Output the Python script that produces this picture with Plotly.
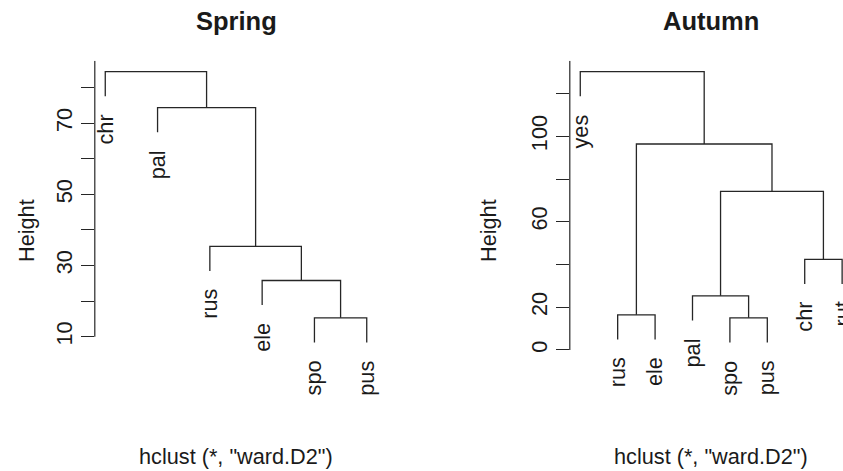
import plotly.graph_objects as go

# dendrogram data (R hclust merge order, heights)
spring_labels = ["chr", "pal", "rus", "ele", "spo", "pus"]
spring_merge = [(-5, -6), (-4, 1), (-3, 2), (-2, 3), (-1, 4)]
spring_height = [15.3, 25.8, 35.4, 74.4, 84.5]
spring_ticks = [10, 20, 30, 40, 50, 60, 70, 80]
spring_ticktext = ["10", "", "30", "", "50", "", "70", ""]

autumn_labels = ["yes", "rus", "ele", "pal", "spo", "pus", "chr", "rut"]
autumn_merge = [(-5, -6), (-2, -3), (-4, 1), (-7, -8), (3, 4), (2, 5), (-1, 6)]
autumn_height = [15.0, 16.4, 25.3, 42.4, 74.2, 96.4, 130.3]
autumn_ticks = [0, 20, 40, 60, 80, 100, 120]
autumn_ticktext = ["0", "20", "", "60", "", "100", ""]

titles = ["Spring", "Autumn"]
subtitle = 'hclust (*, "ward.D2")'

W, H = 843, 471
FONT = "Liberation Sans, Arial, sans-serif"
INK = "#1a1a1a"
LINE = "#262626"
FS = 21.7

# plot regions in pixels (R style), right panel runs past the page edge
panel_x = [(94.8, 377.2), (569.8, 852.6)]
reg_top, reg_bot, dom_bot = 60.8, 353.3, 399.0


def dendro(labels, merge, height):
    n = len(labels)
    span = max(height) - min(height)
    hang = 0.1 * span
    xs, ys = [], []
    node_x, node_y = {}, {}
    leaf_y = {}
    for k, (a, b) in enumerate(merge):
        h = height[k]
        pts = []
        for c in (a, b):
            if c < 0:
                i = -c
                cx, cy = i, h - hang
                leaf_y[i] = cy
            else:
                cx, cy = node_x[c], node_y[c]
            pts.append((cx, cy))
        (x1, y1), (x2, y2) = pts
        xs += [x1, x1, x2, x2, None]
        ys += [y1, h, h, y2, None]
        node_x[k + 1] = (x1 + x2) / 2
        node_y[k + 1] = h
    lo = min(leaf_y.values())
    hi = max(height)
    r = hi - lo
    return xs, ys, leaf_y, (lo - 0.04 * r, hi + 0.04 * r), (1 - 0.04 * (n - 1), n + 0.04 * (n - 1))


fig = go.Figure()
annotations = []
shapes = []
panels = [
    (spring_labels, spring_merge, spring_height, spring_ticks, spring_ticktext),
    (autumn_labels, autumn_merge, autumn_height, autumn_ticks, autumn_ticktext),
]

for p, (labels, merge, height, ticks, ticktext) in enumerate(panels):
    xs, ys, leaf_y, (ylo, yhi), (xlo, xhi) = dendro(labels, merge, height)
    sfx = "" if p == 0 else "2"
    xa, ya = "x" + sfx, "y" + sfx

    fig.add_trace(go.Scatter(x=xs, y=ys, mode="lines", xaxis=xa, yaxis=ya,
                             line=dict(color=LINE, width=1.3),
                             hoverinfo="skip", showlegend=False))

    # stretch y range so the domain reaches the lower margin
    per_px = (yhi - ylo) / (reg_bot - reg_top)
    y0 = ylo - (dom_bot - reg_bot) * per_px

    px0, px1 = panel_x[p]
    per_xpx = (xhi - xlo) / (px1 - px0)
    xend = xhi if px1 <= W else xlo + (W - px0) * per_xpx
    dom_x = [px0 / W, min(px1, W) / W]

    fig.update_layout(**{
        "xaxis" + sfx: dict(domain=dom_x, range=[xlo, xend], visible=False, fixedrange=True),
        "yaxis" + sfx: dict(domain=[(H - dom_bot) / H, (H - reg_top) / H],
                            range=[y0, yhi], anchor=xa,
                            tickvals=ticks, ticktext=ticktext,
                            ticks="outside", ticklen=13, tickwidth=1.2, tickcolor=LINE,
                            tickangle=-90, showgrid=False, zeroline=False, showline=False,
                            tickfont=dict(family=FONT, size=FS, color=INK)),
    })

    # axis line from first tick up to the top of the plot region
    shapes.append(dict(type="line", xref=xa + " domain", yref=ya,
                       x0=0, x1=0, y0=ticks[0], y1=yhi,
                       line=dict(color=LINE, width=1.2)))

    for i, lab in enumerate(labels, start=1):
        annotations.append(dict(x=i, y=leaf_y[i], xref=xa, yref=ya, text=lab,
                                textangle=-90, showarrow=False,
                                xanchor="center", yanchor="top", yshift=-16,
                                font=dict(family=FONT, size=FS, color=INK)))

    xmid = (1 + len(labels)) / 2
    annotations.append(dict(x=xmid, y=1 - 21.5 / H, xref=xa, yref="paper",
                            text="<b>" + titles[p] + "</b>", showarrow=False,
                            xanchor="center", yanchor="middle",
                            font=dict(family=FONT, size=25.5, color=INK)))
    annotations.append(dict(x=xmid, y=1 - 456 / H, xref=xa, yref="paper",
                            text=subtitle, showarrow=False,
                            xanchor="center", yanchor="middle",
                            font=dict(family=FONT, size=FS, color=INK)))
    hx = 26 if p == 0 else 488
    annotations.append(dict(x=hx / W, y=1 - 231 / H, xref="paper", yref="paper",
                            text="Height", textangle=-90, showarrow=False,
                            xanchor="center", yanchor="middle",
                            font=dict(family=FONT, size=FS, color=INK)))

fig.update_layout(width=W, height=H, margin=dict(l=0, r=0, t=0, b=0),
                  paper_bgcolor="white", plot_bgcolor="white",
                  annotations=annotations, shapes=shapes)

# page margin off so the figure sits at the window corner
fig.write_html("out.html", config={"displayModeBar": False},
               post_script="document.body.style.margin='0';")
